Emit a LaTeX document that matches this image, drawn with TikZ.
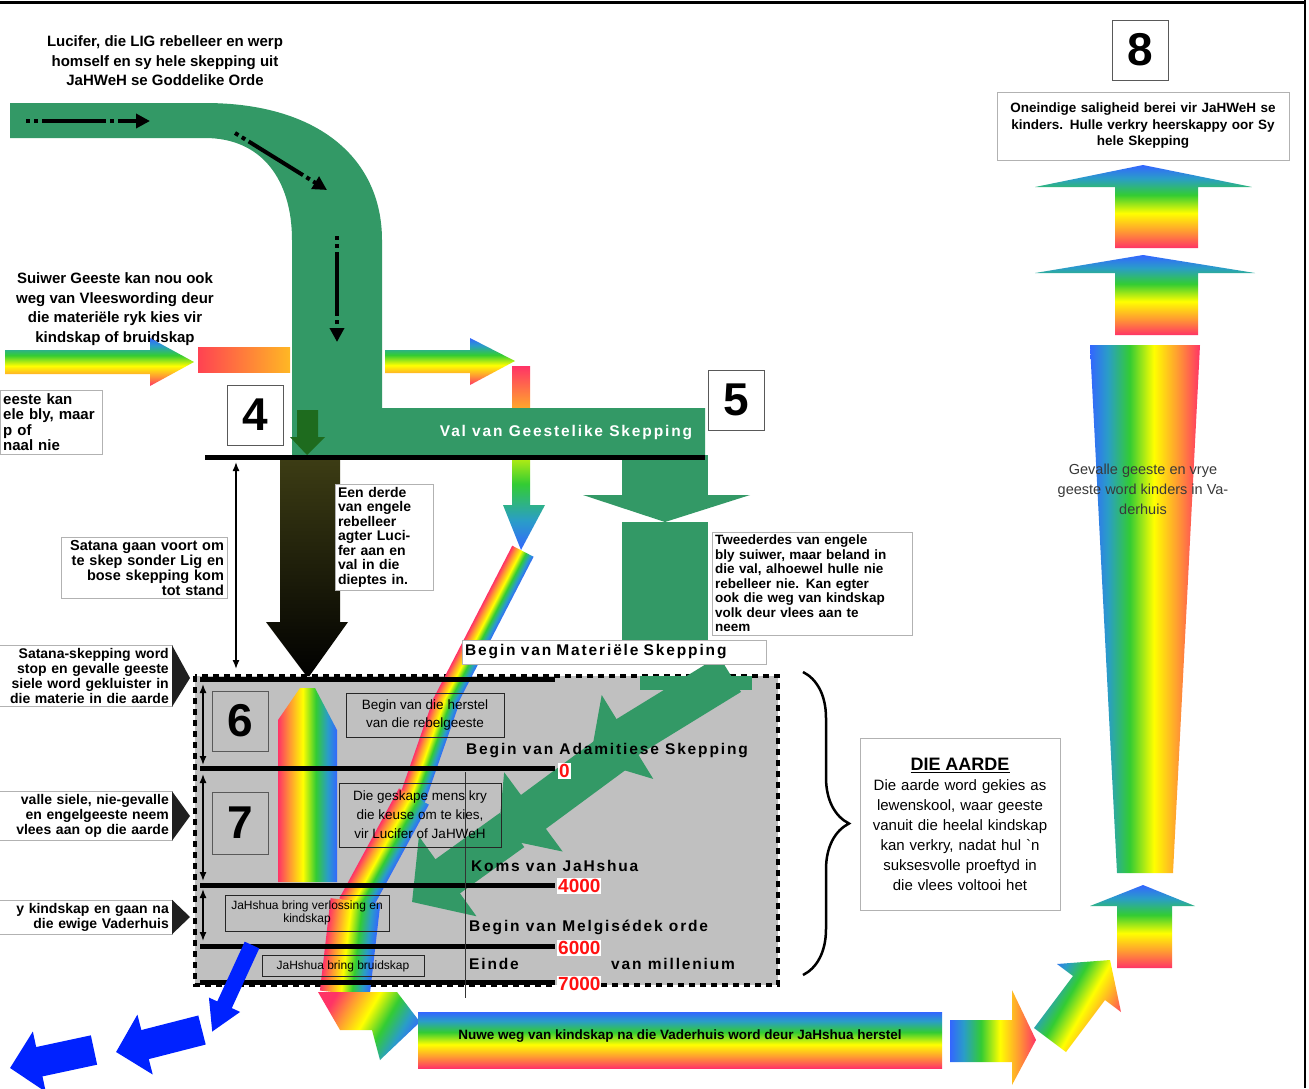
\documentclass[tikz,border=0pt]{standalone}
\usepackage{fontspec}
\setmainfont{Liberation Sans}
\newfontfamily\headfont[LetterSpace=12]{Liberation Sans}
\usepackage{xcolor}
\usepackage{tikz}
\usetikzlibrary{arrows.meta, positioning, decorations.pathreplacing}

\definecolor{valgreen}{HTML}{339966}
\definecolor{darkgreen}{HTML}{1E6B1E}
\definecolor{darkol}{HTML}{3C3C14}
\definecolor{boxgrey}{HTML}{C0C0C0}
\definecolor{rbred}{HTML}{FF3366}
\definecolor{rborange}{HTML}{FF9933}
\definecolor{rbyellow}{HTML}{FFFF00}
\definecolor{rbgreen}{HTML}{33CC33}
\definecolor{rbteal}{HTML}{2A9DC8}
\definecolor{rbblue}{HTML}{3366FF}
\definecolor{pureblue}{HTML}{0022FF}
\definecolor{yearred}{HTML}{FF1111}

\pgfdeclarehorizontalshading{rainbowh}{100bp}{color(0bp)=(rbred); color(25bp)=(rbred); color(35bp)=(rborange); color(46bp)=(rbyellow); color(57bp)=(rbgreen); color(67bp)=(rbteal); color(75bp)=(rbblue); color(100bp)=(rbblue)}

\begin{document}
\begin{tikzpicture}[x=1pt, y=-1pt,
    numbox/.style={draw=gray!70!black, fill=#1, minimum width=56pt, minimum height=60pt, inner sep=0pt, font=\fontsize{46}{46}\selectfont\bfseries},
    numbox/.default=white,
    txtbox/.style={draw=gray!60, fill=white, inner sep=3pt, align=center, font=\fontsize{12}{14.5}\selectfont},
    plain/.style={align=center, inner sep=2pt, font=\fontsize{15}{19.5}\selectfont\bfseries},
    smallbox/.style={draw=gray!30!black, align=center, inner sep=2pt, font=\fontsize{13.5}{18}\selectfont},
    heading/.style={anchor=west, inner sep=2pt, font=\headfont\fontsize{15.5}{17}\selectfont\bfseries},
    year/.style={anchor=west, fill=white, text=yearred, inner sep=1pt, font=\fontsize{19}{19}\selectfont\bfseries},
    callout/.style={txtbox, anchor=east, align=right, text width=168pt, font=\fontsize{14}{15}\selectfont\bfseries},
    hline/.style={line width=5pt},
    dblarr/.style={{Latex[length=9pt,width=7pt]}-{Latex[length=9pt,width=7pt]}, line width=1.4pt},
    dasharr/.style={line width=4pt, dash pattern=on 4pt off 4pt on 4pt off 4pt on 60pt off 0pt, -{Triangle[length=14pt,width=14pt]}},
    greenarr/.style={valgreen, line width=42pt, -{Triangle[length=44pt,width=96pt]}},
    bluearr/.style={pureblue, line width=#1, -{Triangle[length=30pt,width=2*#1]}},
    rainbow/.style={shading=rainbowh, shading angle=#1},
    pointer/.style={fill=gray!25!black}
]
\useasboundingbox (0,0) rectangle (1309,1088);
\fill[white] (0,0) rectangle (1309,1088);

% frame
\draw[line width=3pt] (0,2) -- (1306,2);
\draw[line width=2pt] (1305,0) -- (1305,1088);

% rainbow ways on the left
\node[plain] (suiwer) at (115,309) {Suiwer Geeste kan nou ook\\weg van Vleeswording deur\\die materiële ryk kies vir\\kindskap of bruidskap};
\shade[rainbow=90] (5,350) -- (150,350) -- (150,338) -- (194,362) -- (150,386) -- (150,374) -- (5,374) -- cycle;
\shade[left color=rbred!80!orange, right color=rborange!70!yellow] (198,347) rectangle (290,372);
\shade[rainbow=90] (385,350) -- (470,350) -- (470,338) -- (515,361) -- (470,385) -- (470,373) -- (385,373) -- cycle;
\shade[rainbow=-90] (512,366) -- (530,366) -- (530,505) -- (545,505) -- (521,550) -- (503,505) -- (512,505) -- cycle;

% Fall of Lucifer
\node[plain] (lucifer) at (165,61) {Lucifer, die LIG rebelleer en werp\\homself en sy hele skepping uit\\JaHWeH se Goddelike Orde};

\fill[valgreen] (10,103) -- (205,103) .. controls (320,103) and (382,160) .. (382,240) -- (382,408) -- (705,408) -- (705,455) -- (292,455) -- (292,240) .. controls (292,180) and (262,138) .. (205,138) -- (10,138) -- cycle;
\draw[dasharr] (26,121) -- (150,121);
\draw[dasharr] (235,133) -- (327,190);
\draw[dasharr] (337,236) -- (337,342);
\node[heading, anchor=center, text=white] (val) at (566,433) {Val van Geestelike Skepping};
\fill[darkgreen] (297,410) -- (318,410) -- (318,437) -- (325,437) -- (307,455) -- (290,437) -- (297,437) -- cycle;

\node[txtbox, anchor=north west, align=left, text width=96pt, inner sep=3pt, font=\fontsize{15}{15.5}\selectfont\bfseries] (bly) at (0,390) {eeste kan\\ele bly, maar\\p of\\naal nie};

% numbers 4 and 5
\node[numbox] (vier) at (255,415) {4};
\node[numbox] (vyf) at (736,400) {5};

% third of the angels
\shade[top color=darkol, bottom color=black] (280,460) -- (340,460) -- (340,622) -- (348,622) -- (308,678) -- (266,622) -- (280,622) -- cycle;
\draw[dblarr] (236,462) -- (236,669);
\node[txtbox, align=right, text width=160pt, font=\fontsize{14.5}{15}\selectfont\bfseries, inner sep=3pt] (satana) at (144,568) {Satana gaan voort om\\te skep sonder Lig en\\bose skepping kom\\tot stand};
\node[txtbox, align=left, text width=92pt, font=\fontsize{14}{14.5}\selectfont\bfseries, inner sep=3pt] (derde) at (384,537) {Een derde\\van engele\\rebelleer\\agter Luci-\\fer aan en\\val in die\\dieptes in.};

% two thirds of the angels
\fill[valgreen] (622,455) rectangle (708,497);
\fill[valgreen] (583,495) -- (750,495) -- (665,522) -- cycle;
\fill[valgreen] (622,522) rectangle (708,664);
\draw[hline] (205,457) -- (705,457);
\node[txtbox, align=left, text width=194pt, font=\fontsize{13.5}{14.5}\selectfont\bfseries, inner sep=3pt, anchor=north west] (tweederdes) at (712,532) {Tweederdes van engele\\bly suiwer, maar beland in\\die val, alhoewel hulle nie\\rebelleer nie. Kan egter\\ook die weg van kindskap\\volk deur vlees aan te\\neem};

% the earth
\draw[fill=boxgrey, line width=4pt, dash pattern=on 6pt off 5pt] (195,676) rectangle (778,985);
\fill[valgreen] (640,676) rectangle (752,690);
\begin{scope}[transform canvas={shift={(522,553)}, rotate=-117.3}]
  \shade[rainbow=90] (-2,-12) rectangle (170,12);
\end{scope}
\begin{scope}[transform canvas={shift={(445,705)}, rotate=-109.2}]
  \shade[rainbow=90] (-4,-13) rectangle (102,13);
\end{scope}
\begin{scope}[transform canvas={shift={(412,800)}, rotate=-118.5}]
  \shade[rainbow=90] (-4,-17) rectangle (121,17);
\end{scope}
\begin{scope}[transform canvas={shift={(355,905)}, rotate=-96.6}]
  \shade[rainbow=90] (-4,-25) rectangle (89,25);
\end{scope}
\shade[rainbow=-30] (318,992) -- (397,992) -- (420,1022) -- (380,1060) -- (372,1030) -- (340,1030) -- cycle;
\draw[greenarr] (730,674) -- (590,760);
\draw[greenarr] (620,748) -- (498,838);
\draw[greenarr] (512,830) -- (412,902);
\shade[rainbow=0] (278,882) -- (278,720) -- (300,688) -- (315,688) -- (337,730) -- (337,882) -- cycle;

\node[txtbox, anchor=west, text width=298pt, minimum height=24pt, align=left, inner sep=3pt, font=\headfont\fontsize{15.5}{17}\selectfont\bfseries] (materie) at (462,652) {Begin van Materiële Skepping};

\draw[hline] (200,679) -- (555,679);
\draw[hline] (200,768) -- (555,768);
\draw[hline] (200,885) -- (555,885);
\draw[hline] (200,946) -- (555,946);
\draw[hline] (200,982) -- (555,982);
\draw[gray!40!black] (465,772) -- (465,998);

\node[year] (y0) at (558,771) {0};
\node[year] (y4000) at (557,886) {4000};
\node[year] (y6000) at (557,948) {6000};
\node[year] (y7000) at (557,984) {7000};

\node[heading] (adam) at (464,751) {Begin van Adamitiese Skepping};
\node[heading] (koms) at (469,866) {Koms van JaHshua};
\node[heading] (melg) at (467,927) {Begin van Melgisédek orde};
\node[heading] (einde) at (467,964) {Einde};
\node[heading] (mill) at (609,964) {van millenium};

\node[numbox=boxgrey] (ses) at (240,721) {6};
\node[numbox=boxgrey, minimum height=62pt] (sewe) at (240,823) {7};
\draw[dblarr] (203,684) -- (203,765);
\draw[dblarr] (203,774) -- (203,881);
\draw[dblarr] (203,889) -- (203,941);

\node[smallbox, minimum width=158pt, minimum height=44pt] (herstel) at (425,715) {Begin van die herstel\\van die rebelgeeste};
\node[smallbox, minimum width=162pt, minimum height=64pt, font=\fontsize{13.5}{19}\selectfont] (keuse) at (420,815) {Die geskape mens kry\\die keuse om te kies,\\vir Lucifer of JaHWeH};
\node[smallbox, minimum width=164pt, minimum height=36pt, font=\fontsize{12}{12.5}\selectfont] (verlossing) at (307,913) {JaHshua bring verlossing en\\kindskap};
\node[smallbox, minimum width=162pt, minimum height=21pt, font=\fontsize{12}{13}\selectfont] (bruidskap) at (343,966) {JaHshua bring bruidskap};

% lost ways
\draw[bluearr=16pt] (252,945) -- (212,1032);
\draw[bluearr=30pt] (202,1030) -- (116,1052);
\draw[bluearr=30pt] (94,1050) -- (10,1068);

% callouts on the left
\node[callout] (gekluister) at (172,676) {Satana-skepping word\\stop en gevalle geeste\\siele word gekluister in\\die materie in die aarde};
\fill[pointer] (gekluister.north east) -- (190,678) -- (gekluister.south east) -- cycle;
\node[callout] (vlees) at (172,816) {valle siele, nie-gevalle\\en engelgeeste neem\\vlees aan op die aarde};
\fill[pointer] (vlees.north east) -- (190,816) -- (vlees.south east) -- cycle;
\node[callout] (vaderhuis) at (172,917) {y kindskap en gaan na\\die ewige Vaderhuis};
\fill[pointer] (vaderhuis.north east) -- (190,917) -- (vaderhuis.south east) -- cycle;

% DIE AARDE
\draw[line width=2.5pt, decorate, decoration={brace, amplitude=46pt}] (803,672) -- (803,975);
\node[txtbox, minimum width=200pt, minimum height=172pt, text width=192pt, font=\fontsize{15}{20}\selectfont, anchor=north] (aarde) at (960,738) {{\fontsize{18}{19}\selectfont\bfseries\underline{DIE AARDE}}\\Die aarde word gekies as\\lewenskool, waar geeste\\vanuit die heelal kindskap\\kan verkry, nadat hul \textasciigrave n\\suksesvolle proeftyd in\\die vlees voltooi het\\[6pt]};

% new way to the Father's house
\shade[rainbow=90] (418,1012) rectangle (942,1068);
\node[font=\fontsize{13.5}{15}\selectfont\bfseries] (nuwe) at (680,1036) {Nuwe weg van kindskap na die Vaderhuis word deur JaHshua herstel};
\shade[rainbow=180] (950,1020) -- (1012,1020) -- (1012,990) -- (1036,1040) -- (1012,1085) -- (1012,1062) -- (950,1062) -- cycle;
\shade[rainbow=150] (1066,1052) -- (1105,1000) -- (1121,1012) -- (1110,960) -- (1057,964) -- (1073,976) -- (1034,1028) -- cycle;

% eternal bliss
\shade[rainbow=90] (1117,968) -- (1117,906) -- (1090,906) -- (1143,885) -- (1195,906) -- (1172,906) -- (1172,968) -- cycle;
\shade[rainbow=180] (1090,345) -- (1200,345) -- (1173,873) -- (1117,873) -- cycle;
\node[text=gray!45!black, align=center, font=\fontsize{14.5}{20}\selectfont] (kinders) at (1143,489) {Gevalle geeste en vrye\\geeste word kinders in Va-\\derhuis};
\shade[rainbow=90] (1115,335) -- (1115,273) -- (1035,273) -- (1143,255) -- (1255,273) -- (1198,273) -- (1198,335) -- cycle;
\shade[rainbow=90] (1115,248) -- (1115,187) -- (1035,187) -- (1143,165) -- (1252,187) -- (1198,187) -- (1198,248) -- cycle;
\node[txtbox, minimum width=292pt, minimum height=68pt, text width=284pt, font=\fontsize{13.5}{16.5}\selectfont\bfseries] (salig) at (1143,126) {Oneindige saligheid berei vir JaHWeH se\\kinders. Hulle verkry heerskappy oor Sy\\hele Skepping};
\node[numbox] (agt) at (1140,50) {8};
\end{tikzpicture}
\end{document}
